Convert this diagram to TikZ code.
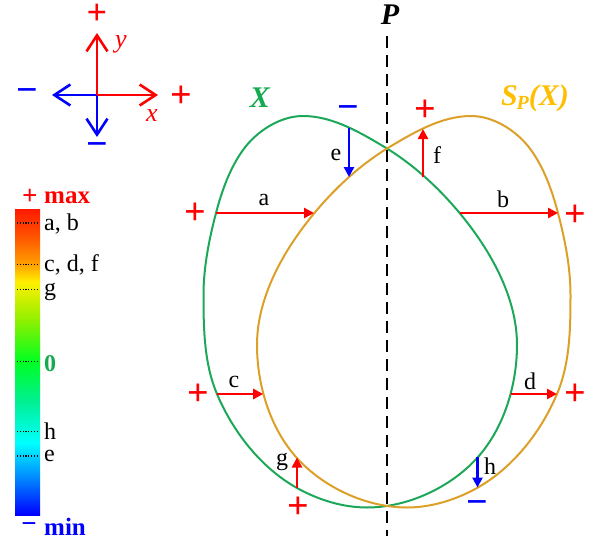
\documentclass[tikz,border=0pt]{standalone}
\usepackage{fontspec}
\setmainfont{Liberation Serif}
\usetikzlibrary{arrows.meta}
\definecolor{cgreen}{RGB}{28,168,88}
\definecolor{corange}{RGB}{220,160,40}
\definecolor{clabel}{RGB}{255,190,0}
\definecolor{cred}{RGB}{255,0,0}
\definecolor{cblue}{RGB}{0,0,255}
\definecolor{czero}{RGB}{20,170,80}
\definecolor{jb0}{RGB}{0,0,255}
\definecolor{jb1}{RGB}{0,128,255}
\definecolor{jb2}{RGB}{0,255,255}
\definecolor{jb3}{RGB}{0,240,144}
\definecolor{jb4}{RGB}{0,255,32}
\definecolor{jb5}{RGB}{144,240,0}
\definecolor{jb6}{RGB}{255,240,0}
\definecolor{jb7}{RGB}{255,160,0}
\definecolor{jb8}{RGB}{255,80,0}
\definecolor{jb9}{RGB}{255,26,0}
\pgfdeclareverticalshading{jetbar}{100bp}{color(0bp)=(jb0); color(25bp)=(jb0); color(30.7bp)=(jb1); color(36.8bp)=(jb2); color(43.8bp)=(jb3); color(50.2bp)=(jb4); color(56.9bp)=(jb5); color(63.1bp)=(jb6); color(66bp)=(jb7); color(70.8bp)=(jb8); color(75bp)=(jb9); color(100bp)=(jb9)}
\tikzset{
  curve/.style={line width=2pt},
  disp/.style={line width=2.6pt, -{Triangle[length=10pt,width=10pt]}},
  axisarrow/.style={line width=2.6pt, -{Straight Barb[length=16pt,width=21pt,line width=2.6pt]}},
  lbl/.style={inner sep=0pt, font=\fontsize{24}{24}\selectfont},
  sign/.style={inner sep=0pt, font=\fontsize{38}{38}\selectfont\bfseries},
  pluss/.style={sign, text=cred},
  minuss/.style={sign, text=cblue},
  cblbl/.style={inner sep=0pt, anchor=west, font=\fontsize{24}{24}\selectfont},
  tick/.style={line width=1.2pt, dash pattern=on 1.2pt off 1.6pt},
}
\begin{document}
\begin{tikzpicture}[x=1pt,y=-1pt]
\useasboundingbox (0,0) rectangle (598,541);
% ---- axes ----
\coordinate (O) at (97,95);
\coordinate (yT) at (97,33);
\coordinate (xR) at (158,95);
\coordinate (xL) at (52,95);
\coordinate (yB) at (97,137);
\draw[axisarrow, cblue] (O) -- (xL);
\draw[axisarrow, cblue] (O) -- (yB);
\draw[axisarrow, cred] (O) -- (yT);
\draw[axisarrow, cred] (O) -- (xR);
\node[pluss, font=\fontsize{36}{36}\selectfont\bfseries] (pT) at (97,14.5) {+};
\node[pluss] (pR) at (181.5,96.5) {+};
\node[minuss] (mL) at (27.5,95.5) {−};
\node[minuss] (mB) at (97.5,149.5) {−};
\node[lbl, text=cred, font=\fontsize{26}{26}\selectfont\itshape] (ylab) at (121,44) {y};
\node[lbl, text=cred, font=\fontsize{26}{26}\selectfont\itshape] (xlab) at (152,116) {x};
% ---- colour bar ----
\shade[shading=jetbar] (15,209.3) rectangle (40,515);
\foreach \yy in {223,264.5,289.5,361.5,431.5,456}{
  \draw[tick] (17,\yy) -- (39,\yy);
}
\node[inner sep=0pt, text=cred, font=\fontsize{27}{27}\selectfont\bfseries] (cbp) at (29.7,197) {+};
\node[cblbl, text=cred, font=\fontsize{25}{25}\selectfont\bfseries] (cbmax) at (44,198) {max};
\node[inner sep=0pt, text=cblue, font=\fontsize{27}{27}\selectfont\bfseries] (cbm) at (29,528) {−};
\node[cblbl, text=cblue, font=\fontsize{25}{25}\selectfont\bfseries] (cbmin) at (44,527) {min};
\node[cblbl] (cbab) at (44,224) {a, b};
\node[cblbl] (cbcdf) at (44,265) {c, d, f};
\node[cblbl] (cbg) at (44,292) {g};
\node[cblbl, text=czero, font=\fontsize{24}{24}\selectfont\bfseries] (cb0) at (44,364) {0};
\node[cblbl] (cbh) at (44,431.5) {h};
\node[cblbl] (cbe) at (44,456) {e};
% ---- mirror line ----
\coordinate (Ptop) at (387,36);
\coordinate (Pbot) at (387,536);
\draw[line width=2pt, dash pattern=on 12pt off 7pt] (Ptop) -- (Pbot);
\node[inner sep=0pt, font=\fontsize{30}{30}\selectfont\bfseries\itshape] (Plab) at (390,15) {P};
% ---- curves ----
\draw[curve, cgreen] (303,116) .. controls (333,116) and (361.3,133.1) .. (387,148.5)
  .. controls (414.7,165.7) and (439.2,188.4) .. (460,213.5)
  .. controls (490.5,250.3) and (517,297.2) .. (517,345)
  .. controls (517,384.5) and (504.2,427.5) .. (478,457)
  .. controls (451,487.4) and (407.6,507.5) .. (367,507.5)
  .. controls (342.8,507.5) and (318.1,499.8) .. (297,488)
  .. controls (261.1,467.9) and (233,431.9) .. (217,394)
  .. controls (204,363.3) and (203.5,328.3) .. (203.5,295)
  .. controls (203.5,267.4) and (209,239.7) .. (216,213)
  .. controls (221.8,191) and (229.7,168.5) .. (243,150)
  .. controls (256.4,131.3) and (280,116) .. cycle;
\begin{scope}[xshift=774pt, xscale=-1]
\draw[curve, corange] (303,116) .. controls (333,116) and (361.3,133.1) .. (387,148.5)
  .. controls (414.7,165.7) and (439.2,188.4) .. (460,213.5)
  .. controls (490.5,250.3) and (517,297.2) .. (517,345)
  .. controls (517,384.5) and (504.2,427.5) .. (478,457)
  .. controls (451,487.4) and (407.6,507.5) .. (367,507.5)
  .. controls (342.8,507.5) and (318.1,499.8) .. (297,488)
  .. controls (261.1,467.9) and (233,431.9) .. (217,394)
  .. controls (204,363.3) and (203.5,328.3) .. (203.5,295)
  .. controls (203.5,267.4) and (209,239.7) .. (216,213)
  .. controls (221.8,191) and (229.7,168.5) .. (243,150)
  .. controls (256.4,131.3) and (280,116) .. cycle;
\end{scope}
\node[inner sep=0pt, text=czero, font=\fontsize{30}{30}\selectfont\bfseries\itshape] (Xlab) at (260,97.5) {X};
\node[inner sep=0pt, text=clabel, font=\fontsize{30}{30}\selectfont\bfseries\itshape] (SPlab) at (535,98) {S\kern-1pt\raisebox{-4pt}{\fontsize{20}{20}\selectfont P}(X)};
% ---- displacement arrows ----
\coordinate (aS) at (216,213); \coordinate (aE) at (314,213);
\coordinate (bS) at (460,213); \coordinate (bE) at (558,213);
\coordinate (cS) at (217,394); \coordinate (cE) at (263.2,394);
\coordinate (dS) at (510.8,394); \coordinate (dE) at (557,394);
\coordinate (eS) at (349,128); \coordinate (eE) at (349,177);
\coordinate (fS) at (423,176.5); \coordinate (fE) at (423,129);
\coordinate (gS) at (297,488); \coordinate (gE) at (297,457.5);
\coordinate (hS) at (477.5,457); \coordinate (hE) at (477.5,487.5);
\draw[disp, cred] (aS) -- (aE);
\draw[disp, cred] (bS) -- (bE);
\draw[disp, cred] (cS) -- (cE);
\draw[disp, cred] (dS) -- (dE);
\draw[disp, cblue] (eS) -- (eE);
\draw[disp, cred] (fS) -- (fE);
\draw[disp, cred] (gS) -- (gE);
\draw[disp, cblue] (hS) -- (hE);
\node[lbl] (la) at (264,200) {a};
\node[lbl] (lb) at (503,199) {b};
\node[lbl] (lc) at (234,382) {c};
\node[lbl] (ld) at (530,381) {d};
\node[lbl] (le) at (336,155) {e};
\node[lbl] (lf) at (437,155) {f};
\node[lbl] (lg) at (282,462) {g};
\node[lbl] (lh) at (490,466) {h};
% ---- signs ----
\node[pluss] (sa) at (195,213.5) {+};
\node[pluss] (sb) at (575,216) {+};
\node[pluss] (sc) at (198.5,395) {+};
\node[pluss] (sd) at (575,395) {+};
\node[minuss] (se) at (348.5,112.5) {−};
\node[pluss] (sf) at (425.5,110.5) {+};
\node[pluss] (sg) at (298.5,508) {+};
\node[minuss] (sh) at (477,507.5) {−};
\end{tikzpicture}
\end{document}
